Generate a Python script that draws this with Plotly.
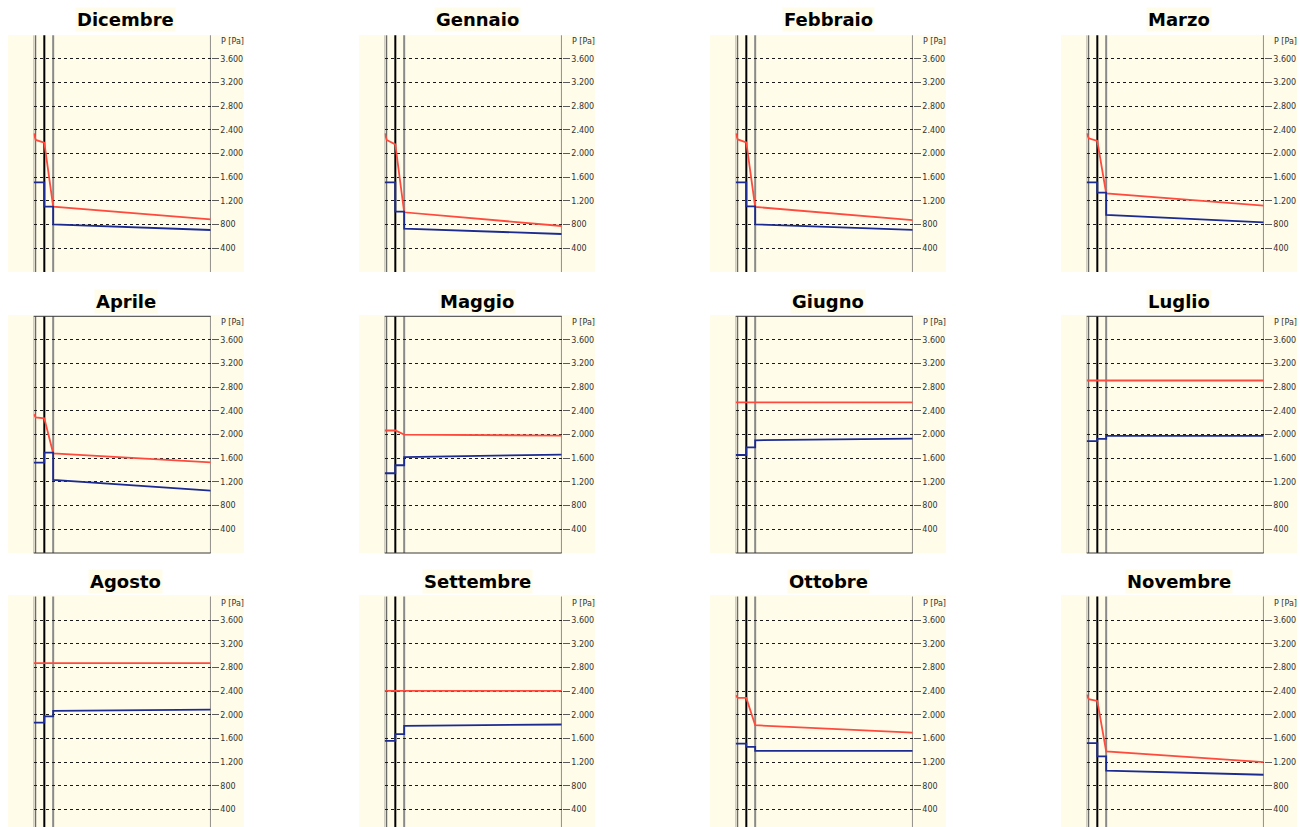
import plotly.graph_objects as go

# Monthly vapour pressure profiles through the wall (Glaser diagram)
mesi = ["Dicembre", "Gennaio", "Febbraio", "Marzo",
        "Aprile", "Maggio", "Giugno", "Luglio",
        "Agosto", "Settembre", "Ottobre", "Novembre"]

# Layer interfaces across the wall thickness [mm], interior on the left
interfacce = [0, 4.5, 24, 44, 400]

# Saturation pressure at: interior surface, after first layer, interfaces 2-3, exterior [Pa]
p_sat = [
    [2344, 2231, 2185, 1104, 890],   # Dicembre
    [2344, 2231, 2157, 1009, 777],   # Gennaio
    [2344, 2240, 2190, 1100, 875],   # Febbraio
    [2344, 2259, 2214, 1330, 1121],  # Marzo
    [2344, 2293, 2276, 1685, 1533],  # Aprile
    [2070, 2070, 2070, 2000, 1985],  # Maggio
    [2547, 2547, 2547, 2547, 2547],  # Giugno
    [2915, 2915, 2915, 2915, 2915],  # Luglio
    [2875, 2875, 2875, 2875, 2875],  # Agosto
    [2406, 2406, 2406, 2406, 2406],  # Settembre
    [2332, 2287, 2287, 1825, 1701],  # Ottobre
    [2343, 2264, 2235, 1381, 1202],  # Novembre
]

# Partial vapour pressure: layers 1-2, layer 3, start of layer 4, exterior [Pa]
p_vap = [
    [1516, 1104, 806, 710],    # Dicembre
    [1516, 1019, 732, 642],    # Gennaio
    [1516, 1110, 805, 712],    # Febbraio
    [1516, 1340, 963, 840],    # Marzo
    [1526, 1695, 1234, 1053],  # Aprile
    [1348, 1483, 1619, 1664],  # Maggio
    [1656, 1786, 1905, 1932],  # Giugno
    [1890, 1930, 1980, 1978],  # Luglio
    [1870, 1975, 2066, 2088],  # Agosto
    [1561, 1673, 1814, 1837],  # Settembre
    [1515, 1459, 1392, 1392],  # Ottobre
    [1522, 1297, 1056, 988],   # Novembre
]

tick_p = [400, 800, 1200, 1600, 2000, 2400, 2800, 3200, 3600]
etichette_p = ["400", "800", "1.200", "1.600", "2.000", "2.400", "2.800", "3.200", "3.600"]

W, H = 1300, 827
BEIGE = "#FFFCE9"
ROSSO = "#FF4B3E"
BLU = "#1B2B92"

col_step = 351
plot_left, plot_right = 33.7, 210.7
# (pixel of 0 Pa) for each row; the last row runs off the page
row_zero = [272.0, 553.0, 833.2]
px_per_pa = 236.7 / 4000.0
title_y = [20, 301, 581]
panel_top = [35, 315, 595]

fig = go.Figure()
shapes = []
annotations = []

for i, mese in enumerate(mesi):
    r, c = divmod(i, 4)
    ax = "" if i == 0 else str(i + 1)
    xa, ya = "x" + ax, "y" + ax

    zero_px = row_zero[r]
    top_px = zero_px - 4000 * px_per_pa
    bot_px = min(zero_px, H)
    y_min = (zero_px - bot_px) / px_per_pa

    x0 = (plot_left + c * col_step) / W
    x1 = (plot_right + c * col_step) / W
    y0 = 1 - bot_px / H
    y1 = 1 - top_px / H

    fig.layout["xaxis" + ax] = dict(domain=[x0, x1], range=[0, interfacce[-1]],
                                    showgrid=False, zeroline=False, showticklabels=False,
                                    ticks="", showline=False, anchor=ya, fixedrange=True)
    fig.layout["yaxis" + ax] = dict(domain=[y0, y1], range=[y_min, 4000], side="right",
                                    anchor=xa, tickvals=tick_p, ticktext=etichette_p,
                                    ticks="outside", ticklen=7, tickwidth=1, tickcolor="#5a5a5a",
                                    showgrid=True, gridcolor="#1a1a1a", gridwidth=1, griddash="dot",
                                    zeroline=False, showline=False,
                                    tickfont=dict(family="DejaVu Sans", size=8, color="#333333"),
                                    fixedrange=True)

    # Saturation pressure
    fig.add_trace(go.Scatter(x=interfacce, y=p_sat[i], mode="lines", xaxis=xa, yaxis=ya,
                             line=dict(color=ROSSO, width=1.8), showlegend=False,
                             hoverinfo="skip"))
    # Partial vapour pressure, stepping at the layer interfaces
    b = p_vap[i]
    xb = [interfacce[0], interfacce[2], interfacce[2], interfacce[3], interfacce[3], interfacce[4]]
    yb = [b[0], b[0], b[1], b[1], b[2], b[3]]
    fig.add_trace(go.Scatter(x=xb, y=yb, mode="lines", xaxis=xa, yaxis=ya,
                             line=dict(color=BLU, width=1.8), showlegend=False,
                             hoverinfo="skip"))

    # Beige panel behind the chart and its axis labels
    shapes.append(dict(type="rect", xref="paper", yref="paper", layer="below",
                       x0=(8 + c * col_step) / W, x1=(244 + c * col_step) / W,
                       y0=1 - min(zero_px, H) / H, y1=1 - panel_top[r] / H,
                       fillcolor=BEIGE, line=dict(width=0)))

    # Layer interfaces
    styles = [("#4a4a4a", 1), ("#4a4a4a", 1), ("#000000", 2), ("#8a8a8a", 2), ("#6a6a6a", 1.5)]
    for xv, (col, wd) in zip(interfacce, styles):
        shapes.append(dict(type="line", xref=xa, yref="paper", layer="below",
                           x0=xv, x1=xv, y0=y0, y1=y1, line=dict(color=col, width=wd)))
    if r == 1:
        for yv in (y0, y1):
            shapes.append(dict(type="line", xref="paper", yref="paper",
                               layer="below", x0=x0, x1=x1, y0=yv, y1=yv,
                               line=dict(color="#3a3a3a", width=1)))

    annotations.append(dict(text="<b>" + mese + "</b>", xref="paper", yref="paper",
                            x=(126 + c * col_step) / W, y=1 - title_y[r] / H,
                            xanchor="center", yanchor="middle", showarrow=False,
                            bgcolor=BEIGE, borderpad=1,
                            font=dict(family="DejaVu Sans", size=18, color="#000000")))
    annotations.append(dict(text="P [Pa]", xref="paper", yref="paper",
                            x=(219 + c * col_step) / W, y=1 - (top_px + 6.5) / H,
                            xanchor="left", yanchor="middle", showarrow=False,
                            font=dict(family="DejaVu Sans", size=8, color="#333333")))

fig.update_layout(width=W, height=H, margin=dict(l=0, r=0, t=0, b=0),
                  paper_bgcolor="white", plot_bgcolor="rgba(0,0,0,0)",
                  shapes=shapes, annotations=annotations, showlegend=False)

fig.write_html("out.html")
